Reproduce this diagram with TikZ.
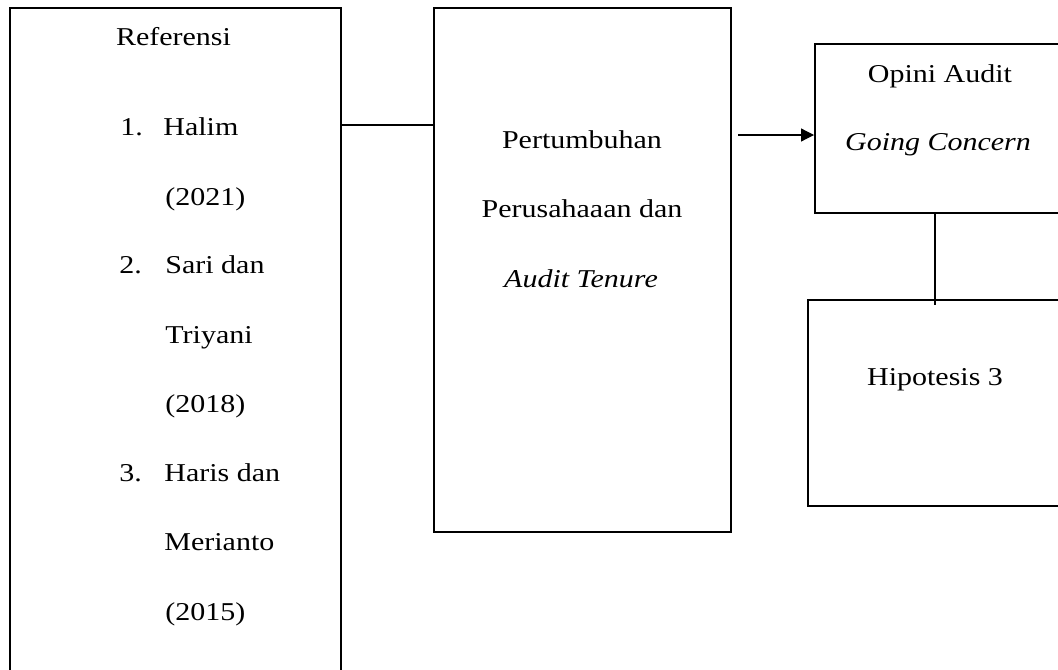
\documentclass[tikz,border=0pt]{standalone}
\usepackage{fontspec}
\setmainfont[FakeStretch=1.167]{Liberation Serif}
\usetikzlibrary{arrows.meta,calc}
\tikzset{
  box/.style={draw, line width=1pt, rectangle, inner sep=0pt, anchor=north west},
  link/.style={line width=1pt},
  thinlink/.style={line width=0.6pt, -{Triangle[length=6.5pt,width=6.5pt]}},
  txt/.style={inner sep=0pt, anchor=base west, font=\fontsize{12.85}{15}\selectfont},
  ctxt/.style={txt, anchor=base},
}
\begin{document}
\begin{tikzpicture}[x=0.5pt,y=-0.5pt]
\path[use as bounding box] (0,0) rectangle (1058,669);
\clip (0,0) rectangle (1058,669);

% boxes
\node[box, minimum width=165.5pt, minimum height=341.5pt] (lbox) at (9,7) {};
\node[box, minimum width=148.5pt, minimum height=262pt] (mbox) at (433,7) {};
\node[box, minimum width=128pt, minimum height=84.5pt] (rtop) at (814,43) {};
\node[box, minimum width=131.5pt, minimum height=103pt] (rbot) at (807,299) {};

% reference list
\node[ctxt] (ref) at (173.5,45) {Referensi};
\node[txt] (n1) at (120,135) {1.};
\node[txt] (r1a) at (163,135) {Halim};
\node[txt] (r1b) at (165,205) {(2021)};
\node[txt] (n2) at (119,273) {2.};
\node[txt] (r2a) at (165,273) {Sari dan};
\node[txt] (r2b) at (165,343) {Triyani};
\node[txt] (r2c) at (165,412) {(2018)};
\node[txt] (n3) at (119,481) {3.};
\node[txt] (r3a) at (164,481) {Haris dan};
\node[txt] (r3b) at (164,550) {Merianto};
\node[txt] (r3c) at (165,620) {(2015)};

% middle box text
\node[ctxt] (m1) at (582,148) {Pertumbuhan};
\node[ctxt] (m2) at (582,217) {Perusahaaan dan};
\node[ctxt] (m3) at (581,287) {\itshape Audit Tenure};

% right boxes text
\node[ctxt] (o1) at (940,82) {Opini Audit};
\node[ctxt] (o2) at (938,150) {\itshape Going Concern};
\node[ctxt] (h3) at (935,385) {Hipotesis 3};

% connectors
\coordinate (linky) at (0,125);
\draw[link] (lbox.east |- linky) -- (mbox.west |- linky);
\coordinate (tail) at (738,135);
\draw[thinlink] (tail) -- (rtop.west |- tail);
\coordinate (vx) at (935,0);
\draw[link] (rtop.south -| vx) -- ($(rbot.north -| vx)+(0,6)$);
\end{tikzpicture}
\end{document}
